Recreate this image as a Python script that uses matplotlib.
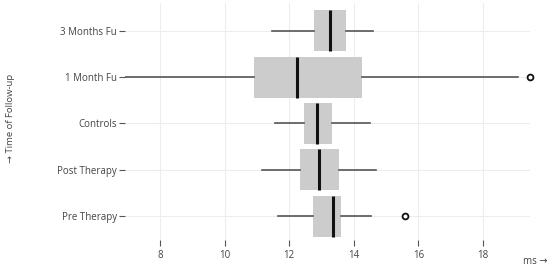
import matplotlib
matplotlib.use("Agg")
import matplotlib.pyplot as plt

# rows from bottom to top
groups = ["Pre Therapy", "Post Therapy", "Controls", "1 Month Fu", "3 Months Fu"]
whis_lo = [11.66, 11.15, 11.56, 6.92, 11.47]
q1 = [12.75, 12.33, 12.47, 10.91, 12.76]
median = [13.35, 12.92, 12.86, 12.23, 13.27]
q3 = [13.61, 13.55, 13.33, 14.24, 13.75]
whis_hi = [14.53, 14.68, 14.50, 19.09, 14.60]
outliers = [[15.58], [], [], [19.45], []]

xticks = [8, 10, 12, 14, 16, 18]

plt.rcParams['font.family'] = ['Open Sans', 'DejaVu Sans']

fig = plt.figure(figsize=(5.5, 2.69), dpi=100)
ax = fig.add_axes([125/550, 29/269, 405/550, 237/269])

stats = []
for i, g in enumerate(groups):
    stats.append(dict(label=g, whislo=whis_lo[i], q1=q1[i], med=median[i],
                      q3=q3[i], whishi=whis_hi[i], fliers=outliers[i]))

bp = ax.bxp(stats, positions=range(len(groups)), vert=False, widths=0.885,
            patch_artist=True, showcaps=False,
            boxprops=dict(facecolor="#cccccc", edgecolor="none"),
            whiskerprops=dict(color="#555555", linewidth=1.2),
            medianprops=dict(color="#111111", linewidth=2.2, solid_capstyle="butt"),
            flierprops=dict(marker="o", markerfacecolor="white", markeredgecolor="#111111",
                            markersize=4.2, markeredgewidth=1.3))
for f in bp["fliers"]:
    f.set_clip_on(False)

ax.set_xlim(6.92, 19.455)
ax.set_ylim(-0.518, 4.598)
ax.set_xticks(xticks)
ax.set_xticklabels([str(t) for t in xticks])
ax.set_yticks(range(len(groups)))
ax.set_yticklabels(groups)

for s in ax.spines.values():
    s.set_visible(False)
ax.grid(True, color="#ededed", linewidth=0.8)
ax.set_axisbelow(True)
ax.tick_params(axis="x", length=4, width=0.8, color="#555555", labelcolor="#444444",
               labelsize=7, pad=3)
ax.tick_params(axis="y", length=4, width=0.8, color="#555555", labelcolor="#444444",
               labelsize=7, pad=2)

fig.text(523/550, 1 - 262/269, "ms →", fontsize=7, color="#444444", va="center", ha="left")
fig.text(11/550, 1 - 118/269, "→ Time of Follow-up", fontsize=6.8, color="#444444",
         rotation=90, va="center", ha="center")

fig.savefig("out.png", dpi=100)
